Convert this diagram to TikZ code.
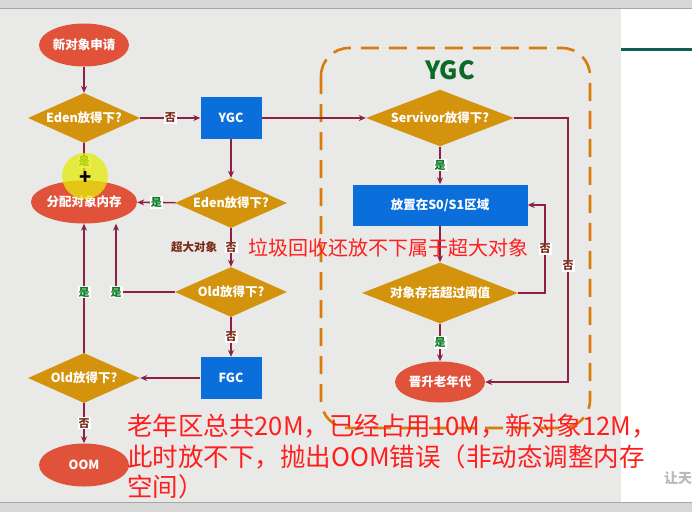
\documentclass[tikz,border=0pt]{standalone}
\usepackage{fontspec}
\setmainfont{Noto Sans CJK SC}
\usetikzlibrary{shapes.geometric,arrows.meta}
\definecolor{pagegray}{HTML}{E9EAE8}
\definecolor{bargray}{HTML}{D8D8D8}
\definecolor{startred}{HTML}{E0533A}
\definecolor{askgold}{HTML}{D4930C}
\definecolor{gcblue}{HTML}{0B6FDB}
\definecolor{flowline}{HTML}{8E2046}
\definecolor{yesgreen}{HTML}{0B7A22}
\definecolor{nobrown}{HTML}{7A2A16}
\definecolor{boxorange}{HTML}{D97A0A}
\definecolor{titlegreen}{HTML}{0A6A26}
\definecolor{notered}{HTML}{FF1E1E}
\definecolor{slideteal}{HTML}{0E5F57}
\begin{document}
\begin{tikzpicture}[x=1pt, y=-1pt,
  every node/.style={font=\bfseries\fontsize{12.5}{14}\selectfont, text=white, inner sep=0pt},
  terminal/.style={ellipse, fill=startred, minimum width=90, minimum height=43},
  ask/.style={diamond, fill=askgold, shape aspect=2.2, minimum width=112, minimum height=50},
  gc/.style={rectangle, fill=gcblue, minimum width=61, minimum height=42},
  arr/.style={draw=flowline, line width=1.6pt, -{Stealth[length=7pt,width=6pt]}},
  yes/.style={fill=white, text=yesgreen, font=\bfseries\fontsize{11}{12}\selectfont, inner sep=1pt},
  no/.style={fill=white, text=nobrown, font=\bfseries\fontsize{11}{12}\selectfont, inner sep=1pt},
  note/.style={text=notered, font=\fontsize{25.5}{30.5}\selectfont, align=left}
]
% slide background
\useasboundingbox (0,0) rectangle (692,512);
\fill[pagegray] (0,0) rectangle (621,512);
\fill[white] (621,0) rectangle (692,512);
\fill[bargray] (0,0) rectangle (692,8);
\fill[bargray] (0,502) rectangle (692,512);
\draw[gray!70, line width=1pt] (0,8) -- (692,8) (0,502) -- (692,502);
\draw[slideteal, line width=3pt] (621,49) -- (692,49);
\node[text=gray!55, font=\bfseries\fontsize{14}{14}\selectfont, anchor=west] (mark) at (664,478) {让天};

% YGC region
\draw[boxorange, line width=2.6pt, dash pattern=on 18pt off 10pt, rounded corners=28pt] (321,48) rectangle (590,428);
\node[text=titlegreen, font=\bfseries\fontsize{25}{27}\selectfont] (ygctitle) at (450,70) {YGC};

\node[terminal] (start) at (84,45) {新对象申请};
\node[ask] (eden1) at (84,118) {Eden放得下?};
\node[gc] (ygc) at (231,118) {YGC};
\node[terminal] (alloc) at (84,202) {分配对象内存};
\node[ask] (eden2) at (231,203) {Eden放得下?};
\node[ask] (old1) at (231,292) {Old放得下?};
\node[gc] (fgc) at (231,378) {FGC};
\node[ask] (old2) at (84,378) {Old放得下?};
\node[terminal] (oom) at (84,465) {OOM};

\node[ask, minimum width=148, minimum height=53] (surv) at (440,118) {Servivor放得下?};
\node[gc, minimum width=175, minimum height=41] (s01) at (440,205) {放置在S0/S1区域};
\node[ask, minimum width=156, minimum height=61] (thr) at (440,293) {对象存活超过阈值};
\node[terminal, minimum height=41] (promote) at (440,382) {晋升老年代};

\draw[arr] (start) -- (eden1);
\draw[arr] (eden1) -- node[no]{否} (ygc);
\draw[arr] (eden1) -- node[yes]{是} (alloc);
\draw[arr] (ygc) -- (eden2);
\draw[arr] (ygc) -- (surv);
\draw[arr] (eden2) -- node[yes]{是} (alloc);
\draw[arr] (eden2) -- node[no]{否} node[xshift=-37, text=nobrown, font=\bfseries\fontsize{11.5}{12}\selectfont]{超大对象} (old1);
\draw[arr] (old1.west) -| node[yes]{是} ([xshift=32]alloc.south);
\draw[arr] (old1) -- node[no]{否} (fgc);
\draw[arr] (fgc) -- (old2);
\draw[arr] (old2) -- node[yes, pos=.47]{是} (alloc);
\draw[arr] (old2) -- node[no]{否} (oom);
\draw[arr] (surv) -- node[yes]{是} (s01);
\draw[arr] (s01) -- (thr);
\draw[arr] (thr) -- node[yes]{是} (promote);
\draw[arr] (thr.east) -- ++(27,0) |- node[no, pos=.25]{否} (s01.east);
\draw[arr] (surv.east) -- ++(54,0) |- node[no, pos=.28]{否} (promote.east);

% annotations
\node[note, font=\fontsize{20}{22}\selectfont, anchor=west] (oversize) at (248,248) {垃圾回收还放不下属于超大对象};
\node[note, anchor=north west] (remark) at (127,414) {老年区总共20M，已经占用10M，新对象12M，\\此时放不下，抛出OOM错误（非动态调整内存\\空间）};

% cursor highlight
\fill[yellow!90!green, opacity=.75] (85,176) circle (23pt);
\node[text=black, font=\bfseries\fontsize{20}{20}\selectfont] (cursor) at (86,178) {+};
\end{tikzpicture}
\end{document}
